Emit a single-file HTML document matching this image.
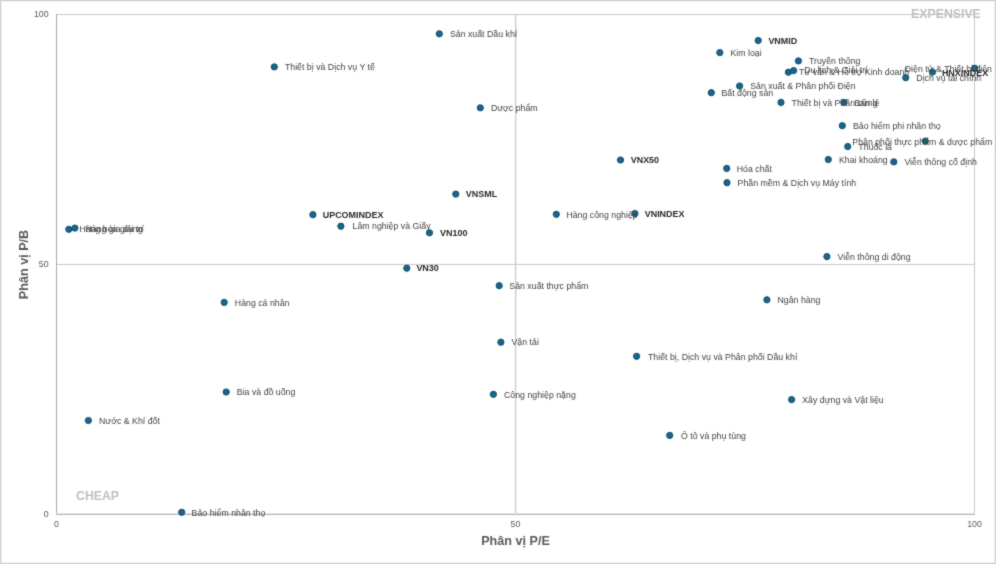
<!DOCTYPE html>
<html><head><meta charset="utf-8"><style>
html,body{margin:0;padding:0;background:#fff;}
body{width:996px;height:564px;overflow:hidden;}
svg{display:block;will-change:transform;}

.lbl text{font-family:"Liberation Sans",Arial,sans-serif;font-size:9.8px;fill:#424242;}
.lbl text.b{font-weight:bold;font-size:9.8px;fill:#282828;}
.ax text{font-family:"Liberation Sans",Arial,sans-serif;font-size:9.6px;fill:#595959;}
.ttl{font-family:"Liberation Sans",Arial,sans-serif;font-size:12.6px;font-weight:bold;fill:#595959;}
.tag{font-family:"Liberation Sans",Arial,sans-serif;font-size:12.3px;font-weight:bold;fill:#bfbfbf;}
</style></head><body>
<div class="wrap"><svg width="996" height="564" viewBox="0 0 996 564">
<defs><filter id="soft" x="0" y="0" width="996" height="564" filterUnits="userSpaceOnUse" color-interpolation-filters="sRGB"><feConvolveMatrix order="3" kernelMatrix="1 2 1 2 16 2 1 2 1" divisor="28" edgeMode="duplicate"/></filter></defs>
<g filter="url(#soft)">
<rect x="0" y="0" width="996" height="564" fill="#fff"/>
<rect x="0.5" y="0.5" width="995" height="563" fill="#fff" stroke="#cfcfcf" stroke-width="1"/>
<rect x="1.5" y="1.5" width="993" height="561" fill="none" stroke="#f4f4f4" stroke-width="1"/>
<g fill="none" stroke-width="1">
<line x1="516.5" y1="14" x2="516.5" y2="514" stroke="#f0f0f0"/>
<line x1="515.5" y1="14" x2="515.5" y2="514" stroke="#cacaca"/>
<line x1="56" y1="264.5" x2="975" y2="264.5" stroke="#cacaca"/>
<line x1="56" y1="14.5" x2="975" y2="14.5" stroke="#cacaca"/>
<line x1="974.5" y1="14" x2="974.5" y2="514" stroke="#cacaca"/>
<line x1="56.5" y1="14" x2="56.5" y2="515" stroke="#a8a8a8"/>
<line x1="56" y1="513.5" x2="975" y2="513.5" stroke="#e2e2e2"/>
<line x1="57" y1="514.5" x2="975" y2="514.5" stroke="#b8b8b8"/>
</g>
<g fill="#1f6488" stroke="#0a4f72" stroke-width="1">
<circle cx="439.3" cy="33.8" r="3.1"/>
<circle cx="274.3" cy="66.9" r="3.1"/>
<circle cx="480.3" cy="107.8" r="3.1"/>
<circle cx="758.2" cy="40.5" r="3.1"/>
<circle cx="719.8" cy="52.6" r="3.1"/>
<circle cx="798.4" cy="60.9" r="3.1"/>
<circle cx="788.4" cy="72.2" r="3.1"/>
<circle cx="793.6" cy="70.6" r="3.1"/>
<circle cx="739.6" cy="86.0" r="3.1"/>
<circle cx="711.3" cy="92.7" r="3.1"/>
<circle cx="781.0" cy="102.4" r="3.1"/>
<circle cx="843.8" cy="102.4" r="3.1"/>
<circle cx="905.7" cy="77.7" r="3.1"/>
<circle cx="932.5" cy="72.1" r="3.1"/>
<circle cx="974.6" cy="68.2" r="3.1"/>
<circle cx="842.3" cy="125.7" r="3.1"/>
<circle cx="925.3" cy="141.1" r="3.1"/>
<circle cx="847.7" cy="146.5" r="3.1"/>
<circle cx="828.3" cy="159.5" r="3.1"/>
<circle cx="893.8" cy="161.9" r="3.1"/>
<circle cx="726.7" cy="168.4" r="3.1"/>
<circle cx="727.0" cy="182.7" r="3.1"/>
<circle cx="620.5" cy="160.0" r="3.1"/>
<circle cx="455.8" cy="194.1" r="3.1"/>
<circle cx="312.9" cy="214.7" r="3.1"/>
<circle cx="340.9" cy="226.2" r="3.1"/>
<circle cx="429.5" cy="232.8" r="3.1"/>
<circle cx="406.8" cy="268.2" r="3.1"/>
<circle cx="556.3" cy="214.3" r="3.1"/>
<circle cx="634.9" cy="213.5" r="3.1"/>
<circle cx="68.8" cy="229.3" r="3.1"/>
<circle cx="74.9" cy="228.1" r="3.1"/>
<circle cx="224.2" cy="302.4" r="3.1"/>
<circle cx="226.2" cy="392.0" r="3.1"/>
<circle cx="88.4" cy="420.5" r="3.1"/>
<circle cx="499.2" cy="285.7" r="3.1"/>
<circle cx="766.9" cy="299.8" r="3.1"/>
<circle cx="500.9" cy="342.2" r="3.1"/>
<circle cx="636.6" cy="356.3" r="3.1"/>
<circle cx="493.4" cy="394.3" r="3.1"/>
<circle cx="791.6" cy="399.6" r="3.1"/>
<circle cx="669.7" cy="435.4" r="3.1"/>
<circle cx="826.9" cy="256.6" r="3.1"/>
<circle cx="181.7" cy="512.3" r="3.1"/>
</g>
<g class="lbl">
<text transform="translate(449.90 37.00) scale(0.897 1)">Sản xuất Dầu khí</text>
<text transform="translate(284.90 70.10) scale(0.897 1)">Thiết bị và Dịch vụ Y tế</text>
<text transform="translate(490.90 111.00) scale(0.897 1)">Dược phẩm</text>
<text transform="translate(768.40 43.90) scale(0.915 1)" class="b">VNMID</text>
<text transform="translate(730.40 55.80) scale(0.897 1)">Kim loại</text>
<text transform="translate(809.00 64.10) scale(0.897 1)">Truyền thông</text>
<text transform="translate(799.00 75.40) scale(0.897 1)">Tư vấn & Hỗ trợ Kinh doanh</text>
<text transform="translate(804.20 73.20) scale(0.897 1)">Du lịch & Giải trí</text>
<text transform="translate(750.20 89.20) scale(0.897 1)">Sản xuất & Phân phối Điện</text>
<text transform="translate(721.40 95.90) scale(0.897 1)">Bất động sản</text>
<text transform="translate(791.60 105.60) scale(0.897 1)">Thiết bị và Phần cứng</text>
<text transform="translate(854.40 105.60) scale(0.897 1)">Bán lẻ</text>
<text transform="translate(916.30 80.90) scale(0.897 1)">Dịch vụ tài chính</text>
<text transform="translate(941.90 75.50) scale(0.915 1)" class="b">HNXINDEX</text>
<text transform="translate(992.00 71.90) scale(0.897 1)" text-anchor="end">Điện tử & Thiết bị điện</text>
<text transform="translate(852.90 128.90) scale(0.897 1)">Bảo hiểm phi nhân thọ</text>
<text transform="translate(992.30 144.70) scale(0.897 1)" text-anchor="end">Phân phối thực phẩm & dược phẩm</text>
<text transform="translate(858.30 149.70) scale(0.897 1)">Thuốc lá</text>
<text transform="translate(838.90 163.10) scale(0.897 1)">Khai khoáng</text>
<text transform="translate(904.40 165.10) scale(0.897 1)">Viễn thông cố định</text>
<text transform="translate(736.70 172.00) scale(0.897 1)">Hóa chất</text>
<text transform="translate(737.60 185.90) scale(0.897 1)">Phần mềm & Dịch vụ Máy tính</text>
<text transform="translate(630.70 163.20) scale(0.915 1)" class="b">VNX50</text>
<text transform="translate(465.80 197.30) scale(0.915 1)" class="b">VNSML</text>
<text transform="translate(322.70 217.90) scale(0.915 1)" class="b">UPCOMINDEX</text>
<text transform="translate(352.50 229.10) scale(0.897 1)">Lâm nghiệp và Giấy</text>
<text transform="translate(440.10 236.00) scale(0.915 1)" class="b">VN100</text>
<text transform="translate(416.40 271.40) scale(0.915 1)" class="b">VN30</text>
<text transform="translate(566.40 217.50) scale(0.897 1)">Hàng công nghiệp</text>
<text transform="translate(644.70 217.10) scale(0.915 1)" class="b">VNINDEX</text>
<text transform="translate(79.40 232.10) scale(0.897 1)">Hàng hóa giải trí</text>
<text transform="translate(85.50 231.90) scale(0.897 1)">Hàng gia dụng</text>
<text transform="translate(234.80 306.10) scale(0.897 1)">Hàng cá nhân</text>
<text transform="translate(236.80 395.20) scale(0.897 1)">Bia và đồ uống</text>
<text transform="translate(99.00 423.70) scale(0.897 1)">Nước & Khí đốt</text>
<text transform="translate(509.30 288.90) scale(0.897 1)">Sản xuất thực phẩm</text>
<text transform="translate(777.50 303.00) scale(0.897 1)">Ngân hàng</text>
<text transform="translate(511.50 345.40) scale(0.897 1)">Vận tải</text>
<text transform="translate(648.00 359.50) scale(0.897 1)">Thiết bị, Dịch vụ và Phân phối Dầu khí</text>
<text transform="translate(504.00 397.50) scale(0.897 1)">Công nghiệp nặng</text>
<text transform="translate(802.20 402.80) scale(0.897 1)">Xây dựng và Vật liệu</text>
<text transform="translate(681.00 438.90) scale(0.897 1)">Ô tô và phụ tùng</text>
<text transform="translate(837.50 259.80) scale(0.897 1)">Viễn thông di động</text>
<text transform="translate(191.60 515.50) scale(0.897 1)">Bảo hiểm nhân thọ</text>
</g>
<g class="ax">
<text transform="translate(48.6 17.2) scale(0.915 1)" text-anchor="end">100</text>
<text transform="translate(48.6 266.7) scale(0.915 1)" text-anchor="end">50</text>
<text transform="translate(48.6 516.7) scale(0.915 1)" text-anchor="end">0</text>
<text transform="translate(56.5 527.3) scale(0.915 1)" text-anchor="middle">0</text>
<text transform="translate(515.5 527.3) scale(0.915 1)" text-anchor="middle">50</text>
<text transform="translate(974.5 527.3) scale(0.915 1)" text-anchor="middle">100</text>
</g>
<text class="ttl" x="515.5" y="545.3" text-anchor="middle">Phân vị P/E</text>
<text class="ttl" transform="translate(27.8 264.5) rotate(-90)" x="0" y="0" text-anchor="middle">Phân vị P/B</text>
<text class="tag" x="980.8" y="17.8" text-anchor="end">EXPENSIVE</text>
<text class="tag" x="76" y="499.8">CHEAP</text>
</g>
</svg></div>
</body></html>
